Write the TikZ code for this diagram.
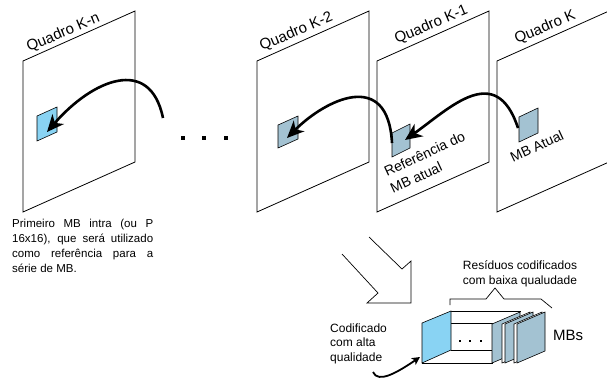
\documentclass[tikz,border=0pt]{standalone}
\usepackage{fontspec}
\setmainfont{Liberation Sans}
\usetikzlibrary{arrows.meta}

\definecolor{mbcyan}{RGB}{137,211,243}
\definecolor{mbgray}{RGB}{163,194,210}

\tikzset{
  frame/.style={draw=black, line width=0.8pt, fill=white},
  mbref/.style={draw=black, line width=0.6pt, fill=mbgray},
  mbintra/.style={draw=black, line width=0.6pt, fill=mbcyan},
  boxline/.style={draw=black, line width=0.6pt},
  motion/.style={line width=2.6pt, -{Stealth[length=17pt,width=15pt,inset=5pt]}},
  pointer/.style={line width=1.8pt, -{Stealth[length=8pt,width=8pt,inset=2pt]}},
  framelabel/.style={font=\fontsize{15}{17}\selectfont, rotate=23, anchor=base west, inner sep=0pt},
  mblabel/.style={font=\fontsize{14}{16}\selectfont, rotate=25, anchor=base west, inner sep=0pt},
  note/.style={font=\fontsize{12}{14.5}\selectfont, inner sep=0pt},
  bigdot/.style={fill=black, minimum size=4.5pt, inner sep=0pt, rectangle},
  smalldot/.style={fill=black, minimum size=2.6pt, inner sep=0pt, rectangle},
}

\begin{document}
\begin{tikzpicture}[x=1pt, y=-1pt]
\useasboundingbox (0,0) rectangle (607,381);

% the four frames (parallelograms in perspective)
\foreach \x in {23,257,377,497}
  \draw[frame] (\x,61) -- ++(112,-50) -- ++(0,151) -- ++(-112,50) -- cycle;

% frame titles
\node[framelabel] (tkn) at (29,52) {Quadro K-n};
\node[framelabel] (tk2) at (262,51) {Quadro K-2};
\node[framelabel] (tk1) at (397,44) {Quadro K-1};
\node[framelabel] (tk)  at (517,44) {Quadro K};

% macroblocks
\draw[mbintra] (37,116) -- (57,107) -- (57,132) -- (37,141) -- cycle;
\draw[mbref] (278,125) -- (298,116) -- (298,139) -- (278,148) -- cycle;
\draw[mbref] (392,133) -- (410,124) -- (410,148) -- (392,157) -- cycle;
\draw[mbref] (519,117) -- (538,108) -- (538,133) -- (519,142) -- cycle;

% anchor points of the motion arrows
\coordinate (fromgap) at (163,118);
\coordinate (mbkn) at (47,132);
\coordinate (mbk2) at (287,138);
\coordinate (mbk1s) at (392,143);
\coordinate (mbk1) at (405,140);
\coordinate (mbk) at (518,128);

\draw[motion] (fromgap) .. controls (150,55) and (92,80) .. (mbkn);
\draw[motion] (mbk1s) .. controls (388,68) and (325,100) .. (mbk2);
\draw[motion] (mbk) .. controls (496,61) and (450,108) .. (mbk1);

% labels inside the frames
\node[mblabel] (ref1) at (387,177) {Referência do};
\node[mblabel] (ref2) at (393,194) {MB atual};
\node[mblabel] (atual) at (513,163) {MB Atual};

% dots between frames
\node[bigdot] (d1) at (183,138) {};
\node[bigdot] (d2) at (204,138) {};
\node[bigdot] (d3) at (226,138) {};

% explanatory note
\node[anchor=north west, inner sep=0pt, font=\fontsize{11.5}{15}\selectfont, align=left] (nota) at (12,218.5)
  {\makebox[141pt][s]{Primeiro MB intra (ou P}\\
   \makebox[141pt][s]{16x16), que será utilizado}\\
   \makebox[141pt][s]{como referência para a}\\
   série de MB.};

% hollow arrow
\draw[line width=0.7pt, line join=miter] (369,237) -- (402,269) -- (411,261) -- (411,303)
  -- (367,303) -- (378,293) -- (342,254);

% coded block
\draw[boxline] (451,311) -- (521,311);
\draw[boxline] (451,350) -- (493,350);
\draw[boxline] (422,323) -- (493,323);
\draw[boxline] (422,363) -- (493,363);
\draw[mbintra] (422,323) -- (451,311) -- (451,350) -- (422,363) -- cycle;
\draw[mbref] (492,324) -- (520,312) -- (520,351) -- (492,363) -- cycle;
\draw[boxline, fill=white] (502,324) -- (530,312) -- (530,351) -- (502,363) -- cycle;
\draw[mbref] (505,324) -- (533,312) -- (533,351) -- (505,363) -- cycle;
\draw[boxline, fill=white] (514,324) -- (542,312) -- (542,351) -- (514,363) -- cycle;
\draw[mbref] (517,324) -- (545,312) -- (545,351) -- (517,363) -- cycle;

\node[smalldot] (s1) at (460,341) {};
\node[smalldot] (s2) at (470,341) {};
\node[smalldot] (s3) at (481,341) {};

% brace over the residual blocks
\draw[line width=0.7pt] (450,305) -- (450,299) -- (486,299) -- (495,288) -- (504,299) -- (541,299) -- (552,308);

\node[note, align=center] (resid) at (520,274) {Resíduos codificados\\com baixa qualudade};
\node[note, align=left, anchor=north west] (alta) at (330,323.5) {Codificado\\com alta\\qualidade};
\node[font=\fontsize{15}{17}\selectfont, inner sep=0pt] (mbs) at (568,335) {MBs};

% pointer to the intra-coded block
\coordinate (ptail) at (373,372);
\coordinate (phead) at (420,357);
\draw[pointer] (ptail) .. controls (378,384) and (398,372) .. (phead);
\end{tikzpicture}
\end{document}
